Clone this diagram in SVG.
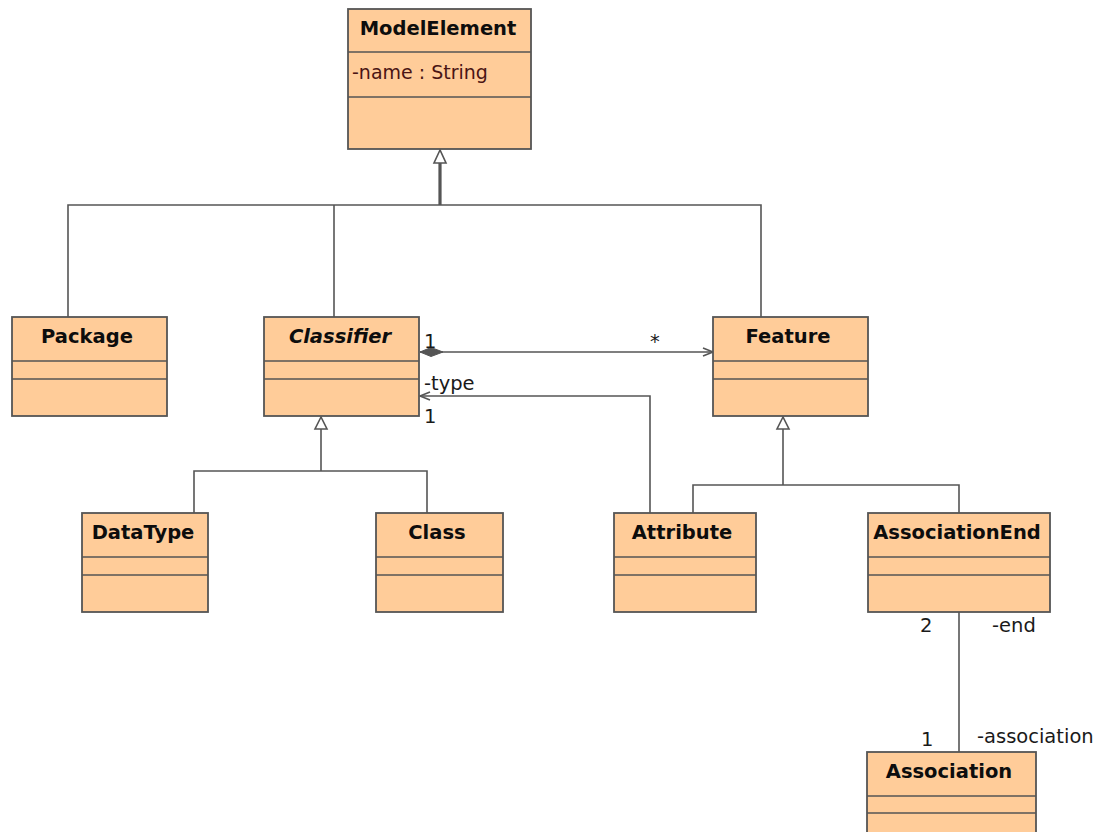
<svg xmlns="http://www.w3.org/2000/svg" width="1106" height="832" viewBox="0 0 1106 832">
  <style>
    .box { fill: #ffcc99; stroke: #555555; stroke-width: 1.8; }
    .sep { stroke: #555555; stroke-width: 1.6; }
    .title { font-family: "DejaVu Sans", Verdana, sans-serif; font-weight: bold; font-size: 19.5px; fill: #0d0d0d; text-anchor: middle; }
    .attr { font-family: "DejaVu Sans", Verdana, sans-serif; font-size: 19px; fill: #4a1414; }
    .lbl { font-family: "DejaVu Sans", Verdana, sans-serif; font-size: 19.5px; fill: #1a1a1a; }
    .ln { fill: none; stroke: #555555; stroke-width: 1.6; }
    .gen { fill: #ffffff; stroke: #555555; stroke-width: 1.6; stroke-linejoin: miter; }
  </style>

  <rect width="1106" height="832" fill="#ffffff"/>

  <!-- connectors -->
  <g id="connectors">
    <!-- generalization to ModelElement -->
    <line x1="440" y1="163" x2="440" y2="205" stroke="#555555" stroke-width="3.2"/>
    <polyline class="ln" points="68,317 68,205 761,205 761,317"/>
    <line class="ln" x1="334" y1="205" x2="334" y2="317"/>
    <polygon class="gen" points="440,150 434,163 446,163"/>

    <!-- generalization to Classifier -->
    <line class="ln" x1="321" y1="429" x2="321" y2="471"/>
    <polyline class="ln" points="194,513 194,471 427,471 427,513"/>
    <polygon class="gen" points="321,417 315,429 327,429"/>

    <!-- generalization to Feature -->
    <line class="ln" x1="783" y1="429" x2="783" y2="485"/>
    <polyline class="ln" points="693,513 693,485 959,485 959,513"/>
    <polygon class="gen" points="783,417 777,429 789,429"/>

    <!-- Classifier owns Feature (composition) -->
    <line class="ln" x1="420" y1="352" x2="713" y2="352"/>
    <polygon points="420,352 431,347.5 443,352 431,356.5" fill="#555555" stroke="#555555" stroke-width="1"/>
    <polyline class="ln" points="703,348 713,352 703,356"/>

    <!-- Attribute -type -> Classifier -->
    <polyline class="ln" points="650,513 650,396 420,396"/>
    <polyline class="ln" points="430,392 420,396 430,400"/>

    <!-- AssociationEnd - Association -->
    <line class="ln" x1="959" y1="612" x2="959" y2="752"/>

    <!-- role names and multiplicities -->
    <text class="lbl" x="424" y="348">1</text>
    <text class="lbl" x="650" y="348">*</text>
    <text class="lbl" x="424" y="390">-type</text>
    <text class="lbl" x="424" y="423">1</text>
    <text class="lbl" x="920" y="632">2</text>
    <text class="lbl" x="992" y="632">-end</text>
    <text class="lbl" x="921" y="746">1</text>
    <text class="lbl" x="977" y="743">-association</text>
  </g>

  <!-- classes -->
  <g id="ModelElement">
    <rect class="box" x="348" y="9" width="183" height="140"/>
    <line class="sep" x1="348" y1="52" x2="531" y2="52"/>
    <line class="sep" x1="348" y1="97" x2="531" y2="97"/>
    <text class="title" x="438" y="35">ModelElement</text>
    <text class="attr" x="352" y="79">-name : String</text>
  </g>

  <g id="Package">
    <rect class="box" x="12" y="317" width="155" height="99"/>
    <line class="sep" x1="12" y1="361" x2="167" y2="361"/>
    <line class="sep" x1="12" y1="379" x2="167" y2="379"/>
    <text class="title" x="87" y="343">Package</text>
  </g>

  <g id="Classifier">
    <rect class="box" x="264" y="317" width="155" height="99"/>
    <line class="sep" x1="264" y1="361" x2="419" y2="361"/>
    <line class="sep" x1="264" y1="379" x2="419" y2="379"/>
    <text class="title" x="340" y="343" font-style="italic">Classifier</text>
  </g>

  <g id="Feature">
    <rect class="box" x="713" y="317" width="155" height="99"/>
    <line class="sep" x1="713" y1="361" x2="868" y2="361"/>
    <line class="sep" x1="713" y1="379" x2="868" y2="379"/>
    <text class="title" x="788" y="343">Feature</text>
  </g>

  <g id="DataType">
    <rect class="box" x="82" y="513" width="126" height="99"/>
    <line class="sep" x1="82" y1="557" x2="208" y2="557"/>
    <line class="sep" x1="82" y1="575" x2="208" y2="575"/>
    <text class="title" x="143" y="539">DataType</text>
  </g>

  <g id="Class">
    <rect class="box" x="376" y="513" width="127" height="99"/>
    <line class="sep" x1="376" y1="557" x2="503" y2="557"/>
    <line class="sep" x1="376" y1="575" x2="503" y2="575"/>
    <text class="title" x="437" y="539">Class</text>
  </g>

  <g id="Attribute">
    <rect class="box" x="614" y="513" width="142" height="99"/>
    <line class="sep" x1="614" y1="557" x2="756" y2="557"/>
    <line class="sep" x1="614" y1="575" x2="756" y2="575"/>
    <text class="title" x="682" y="539">Attribute</text>
  </g>

  <g id="AssociationEnd">
    <rect class="box" x="868" y="513" width="182" height="99"/>
    <line class="sep" x1="868" y1="557" x2="1050" y2="557"/>
    <line class="sep" x1="868" y1="575" x2="1050" y2="575"/>
    <text class="title" x="957" y="539">AssociationEnd</text>
  </g>

  <g id="Association">
    <rect class="box" x="867" y="752" width="169" height="99"/>
    <line class="sep" x1="867" y1="796" x2="1036" y2="796"/>
    <line class="sep" x1="867" y1="813" x2="1036" y2="813"/>
    <text class="title" x="949" y="778">Association</text>
  </g>
</svg>
